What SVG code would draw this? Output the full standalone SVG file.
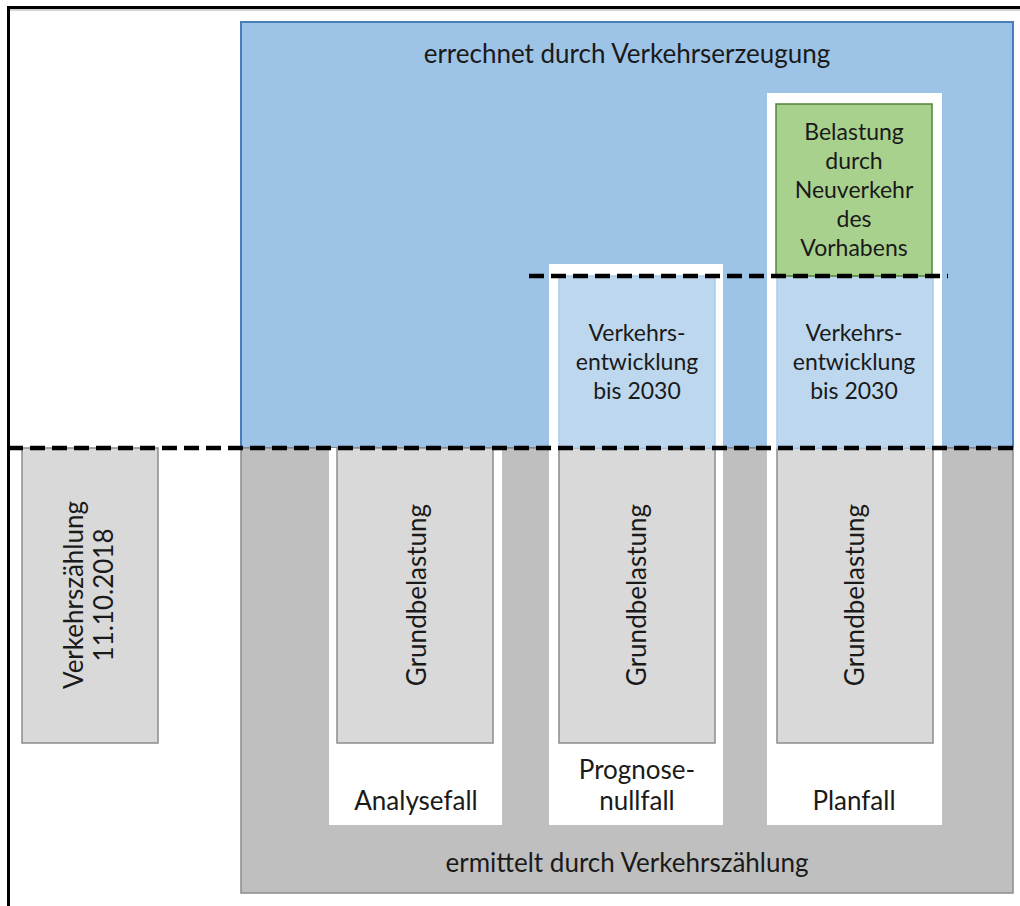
<svg xmlns="http://www.w3.org/2000/svg" width="1020" height="906" viewBox="0 0 1020 906">
<style>
text{font-family:Lato,"Liberation Sans",sans-serif;font-size:23px;fill:#1a1a1a;text-anchor:middle}
.big{font-size:26px}
.gb{fill:#D9D9D9;stroke:#8C8C8C;stroke-width:1.5}
.lb{fill:#BDD7EE;stroke:#A9CBEA;stroke-width:1.5}
.wc{fill:#FFFFFF}
.dash{stroke:#000;stroke-width:4.5;stroke-dasharray:15 7;fill:none}
</style>
<rect width="1020" height="906" fill="#FFFFFF"/>
<g id="frame">
<line x1="7" y1="10" x2="1020" y2="10" stroke="#A6A6A6" stroke-width="1"/>
<line x1="7" y1="7.5" x2="1020" y2="7.5" stroke="#000" stroke-width="3"/>
<line x1="8.5" y1="6" x2="8.5" y2="906" stroke="#000" stroke-width="3"/>
</g>
<g id="region-errechnet">
<rect x="241" y="22" width="772" height="426" fill="#9DC3E6" stroke="#4A7EBB" stroke-width="2"/>
<text class="big" x="627" y="63">errechnet durch Verkehrserzeugung</text>
</g>
<g id="region-ermittelt">
<rect x="241" y="448" width="772" height="445" fill="#BFBFBF" stroke="#8C8C8C" stroke-width="1.5"/>
<text class="big" x="627" y="872">ermittelt durch Verkehrszählung</text>
</g>
<g id="col-analysefall">
<rect class="wc" x="329" y="448" width="173" height="377"/>
<text class="big" x="416" y="810">Analysefall</text>
</g>
<g id="col-prognosenullfall">
<rect class="wc" x="549" y="264" width="174" height="561"/>
<text class="big" x="637" y="779">Prognose-</text>
<text class="big" x="637" y="810">nullfall</text>
</g>
<g id="col-planfall">
<rect class="wc" x="767" y="93" width="175" height="732"/>
<text class="big" x="854" y="810">Planfall</text>
</g>
<g id="verkehrszaehlung">
<rect class="gb" x="22" y="448" width="136" height="295"/>
<text class="big" transform="translate(83,595) rotate(-90)">Verkehrszählung</text>
<text class="big" transform="translate(113,595) rotate(-90)">11.10.2018</text>
</g>
<g id="grund-analysefall">
<rect class="gb" x="337" y="448" width="156" height="295"/>
<text class="big" transform="translate(426,595) rotate(-90)">Grundbelastung</text>
</g>
<g id="grund-prognosenullfall">
<rect class="gb" x="559" y="448" width="156" height="295"/>
<text class="big" transform="translate(646,595) rotate(-90)">Grundbelastung</text>
</g>
<g id="grund-planfall">
<rect class="gb" x="777" y="448" width="156" height="295"/>
<text class="big" transform="translate(864,595) rotate(-90)">Grundbelastung</text>
</g>
<g id="entwicklung-prognosenullfall">
<rect class="lb" x="559" y="276" width="156" height="172"/>
<text x="637" y="341">Verkehrs-</text>
<text x="637" y="370">entwicklung</text>
<text x="637" y="399">bis 2030</text>
</g>
<g id="entwicklung-planfall">
<rect class="lb" x="777" y="276" width="156" height="172"/>
<text x="854" y="341">Verkehrs-</text>
<text x="854" y="370">entwicklung</text>
<text x="854" y="399">bis 2030</text>
</g>
<g id="neuverkehr">
<rect x="776" y="104" width="156" height="172" fill="#A9D18E" stroke="#548235" stroke-width="1.5"/>
<text x="854" y="140">Belastung</text>
<text x="854" y="169">durch</text>
<text x="854" y="198">Neuverkehr</text>
<text x="854" y="227">des</text>
<text x="854" y="256">Vorhabens</text>
</g>
<g id="connectors">
<line class="dash" x1="8" y1="448" x2="1020" y2="448"/>
<line class="dash" x1="529" y1="276" x2="948" y2="276"/>
</g>
</svg>
